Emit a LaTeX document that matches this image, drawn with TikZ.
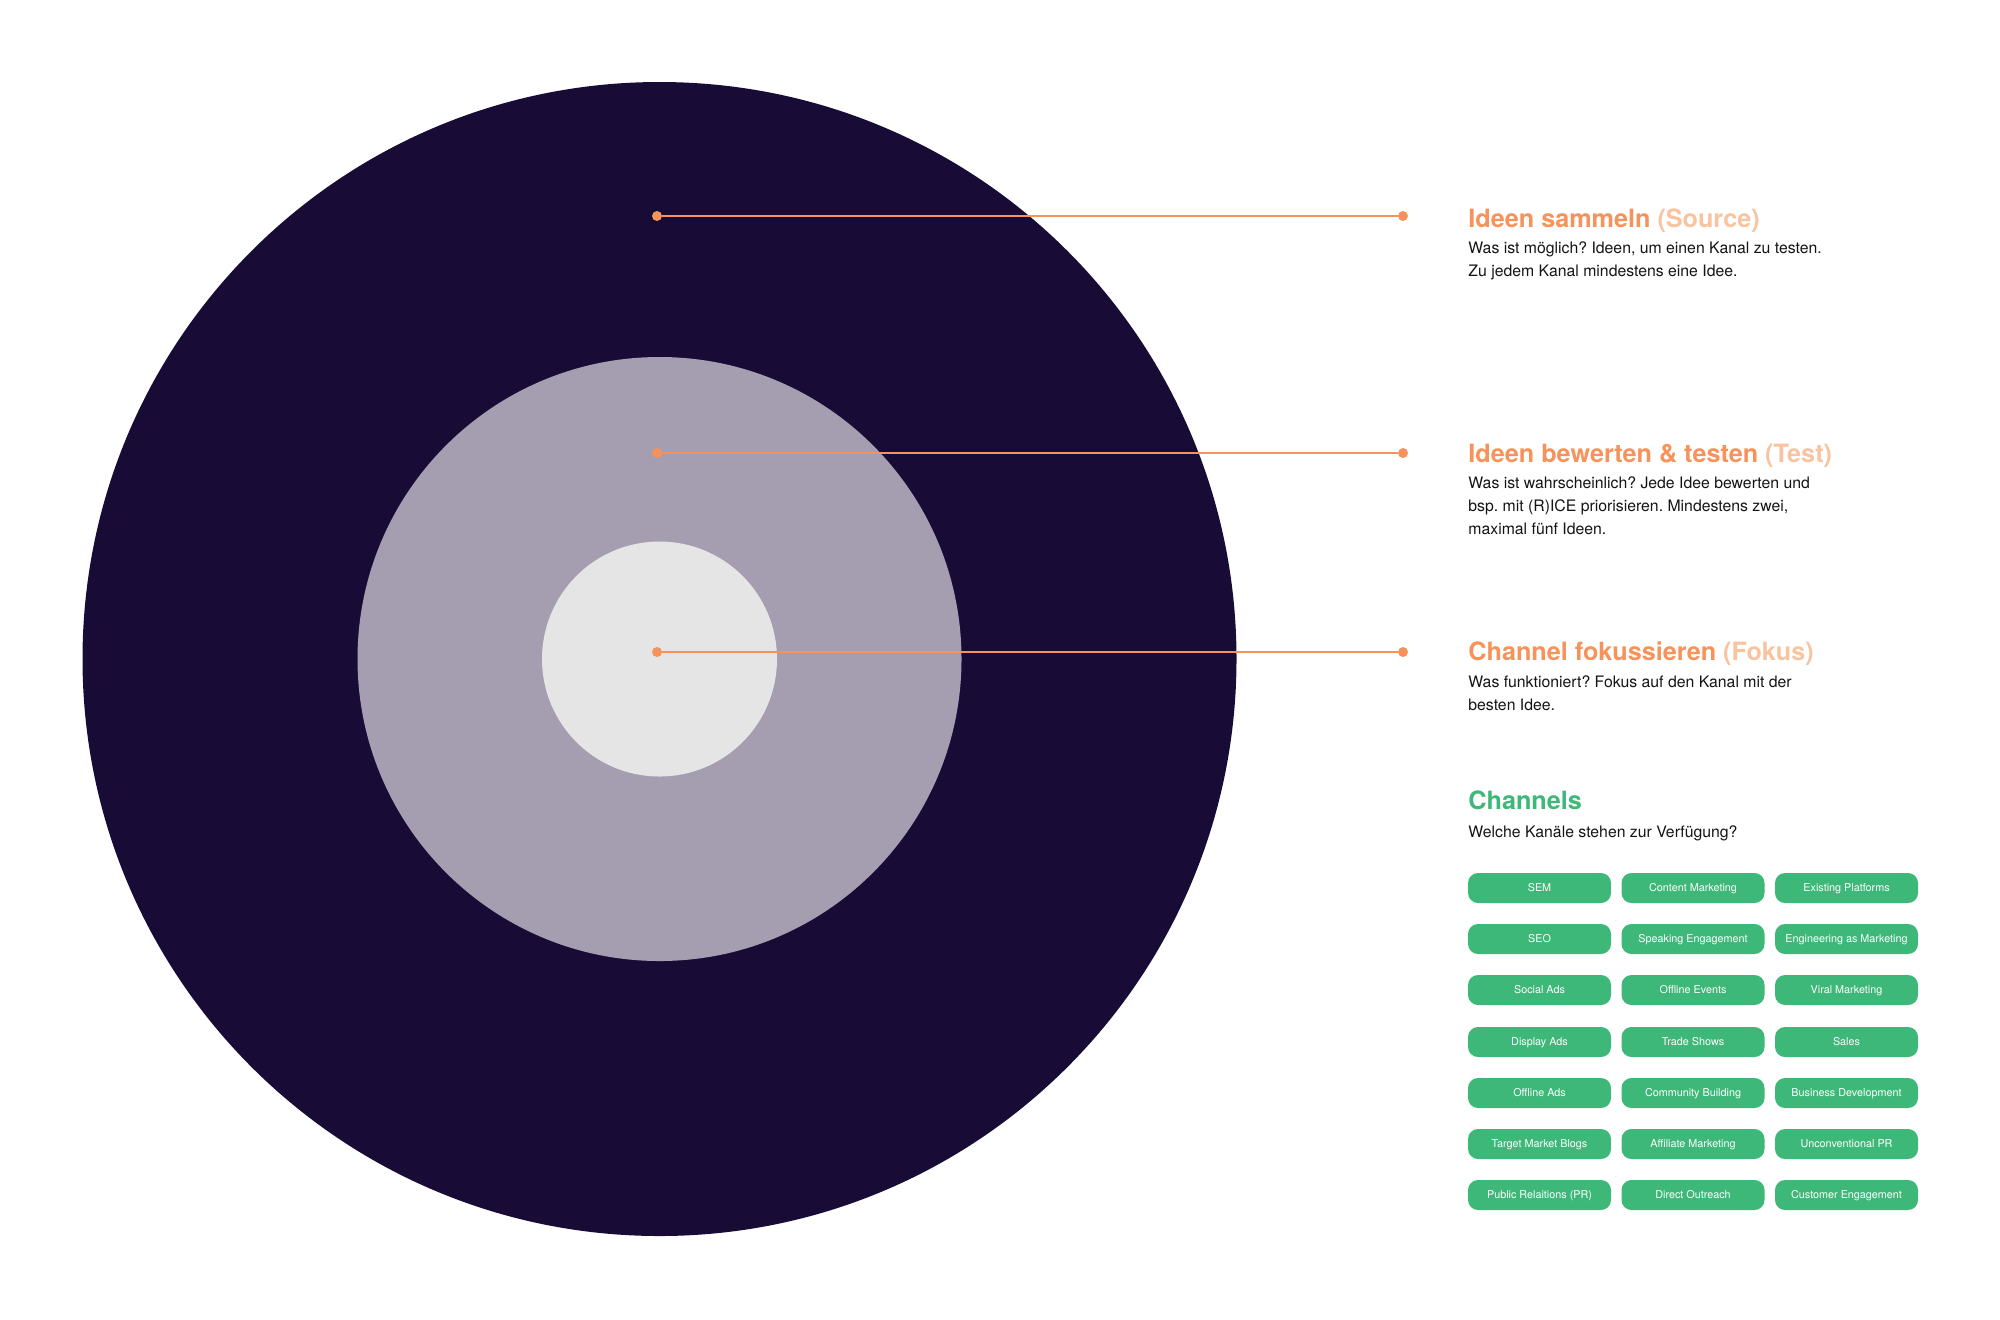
\documentclass[tikz,border=0pt]{standalone}
\usepackage{fontspec}
\setmainfont{TeX Gyre Heros}
\usepackage{tikz}
\usetikzlibrary{positioning}
\pgfdeclarelayer{background}
\pgfsetlayers{background,main}
\definecolor{dunkel}{HTML}{180C37}
\definecolor{lila}{HTML}{A49EB0}
\definecolor{hellgrau}{HTML}{E5E5E5}
\definecolor{orangeA}{HTML}{F6925A}
\definecolor{orangeB}{HTML}{F9C3A0}
\definecolor{gruen}{HTML}{3DB878}
\definecolor{schrift}{HTML}{141414}
\frenchspacing

\begin{document}
\begin{tikzpicture}[x=0.5pt,y=-0.5pt,
						ringnode/.style={circle, inner sep=0pt},
						dotnode/.style={circle, fill=orangeA, inner sep=0pt, minimum size=5pt},
						headnode/.style={anchor=base west, inner sep=0pt, text=orangeA, font=\bfseries\fontsize{12.6}{15}\selectfont},
						textnode/.style={anchor=base west, inner sep=0pt, align=left, text=schrift, font=\fontsize{7.9}{11.5}\selectfont},
						channode/.style={rectangle, rounded corners=5pt, fill=gruen, text=white, minimum width=71.5pt, minimum height=15pt, inner sep=0pt, text height=4.2pt, text depth=1.2pt, font=\fontsize{5.4}{6}\selectfont},
						]
						\useasboundingbox (0,0) rectangle (2000,1319);
						\begin{pgfonlayer}{background}
						%Rings
						\node[ringnode, fill=dunkel, minimum size=577pt]      (aussen)   at (659.5,659)   {};
						\node[ringnode, fill=lila, minimum size=302pt]        (mitte)    at (659.5,659)   {};
						\node[ringnode, fill=hellgrau, minimum size=117.5pt]  (innen)    at (659.5,659)   {};
						\end{pgfonlayer}

						%Dots
						\node[dotnode]      (s1)      at (657,216)      {};
						\node[dotnode]      (e1)      at (1403,216)     {};
						\node[dotnode]      (s2)      at (657,453)      {};
						\node[dotnode]      (e2)      at (1403,453)     {};
						\node[dotnode]      (s3)      at (657,652)      {};
						\node[dotnode]      (e3)      at (1403,652)     {};

						%Lines
						\draw[orangeA, line width=1pt] (s1) -- (e1);
						\draw[orangeA, line width=1pt] (s2) -- (e2);
						\draw[orangeA, line width=1pt] (s3) -- (e3);

						%Labels
						\node[headnode]     (label1)  at (1468,227)     {Ideen sammeln \textcolor{orangeB}{(Source)}};
						\node[textnode]     (text1)   at (1468,276)     {Was ist möglich? Ideen, um einen Kanal zu testen.\\Zu jedem Kanal mindestens eine Idee.};
						\node[headnode]     (label2)  at (1468,462)     {Ideen bewerten \& testen \textcolor{orangeB}{(Test)}};
						\node[textnode]     (text2)   at (1468,534)     {Was ist wahrscheinlich? Jede Idee bewerten und\\bsp. mit (R)ICE priorisieren. Mindestens zwei,\\maximal fünf Ideen.};
						\node[headnode]     (label3)  at (1468,660)     {Channel fokussieren \textcolor{orangeB}{(Fokus)}};
						\node[textnode]     (text3)   at (1468,710)     {Was funktioniert? Fokus auf den Kanal mit der\\besten Idee.};
						\node[headnode, text=gruen] (label4) at (1468,809) {Channels};
						\node[textnode]     (text4)   at (1468,837)     {Welche Kanäle stehen zur Verfügung?};

						%Channels
						\node[channode]     (c1)      at (1539.5,888)   {SEM};
						\node[channode]     (c2)      at (1693,888)     {Content Marketing};
						\node[channode]     (c3)      at (1846.5,888)   {Existing Platforms};
						\node[channode]     (c4)      at (1539.5,939)   {SEO};
						\node[channode]     (c5)      at (1693,939)     {Speaking Engagement};
						\node[channode]     (c6)      at (1846.5,939)   {Engineering as Marketing};
						\node[channode]     (c7)      at (1539.5,990)   {Social Ads};
						\node[channode]     (c8)      at (1693,990)     {Offline Events};
						\node[channode]     (c9)      at (1846.5,990)   {Viral Marketing};
						\node[channode]     (c10)     at (1539.5,1042)  {Display Ads};
						\node[channode]     (c11)     at (1693,1042)    {Trade Shows};
						\node[channode]     (c12)     at (1846.5,1042)  {Sales};
						\node[channode]     (c13)     at (1539.5,1093)  {Offline Ads};
						\node[channode]     (c14)     at (1693,1093)    {Community Building};
						\node[channode]     (c15)     at (1846.5,1093)  {Business Development};
						\node[channode]     (c16)     at (1539.5,1144)  {Target Market Blogs};
						\node[channode]     (c17)     at (1693,1144)    {Affiliate Marketing};
						\node[channode]     (c18)     at (1846.5,1144)  {Unconventional PR};
						\node[channode]     (c19)     at (1539.5,1195)  {Public Relaitions (PR)};
						\node[channode]     (c20)     at (1693,1195)    {Direct Outreach};
						\node[channode]     (c21)     at (1846.5,1195)  {Customer Engagement};
					\end{tikzpicture}
\end{document}
